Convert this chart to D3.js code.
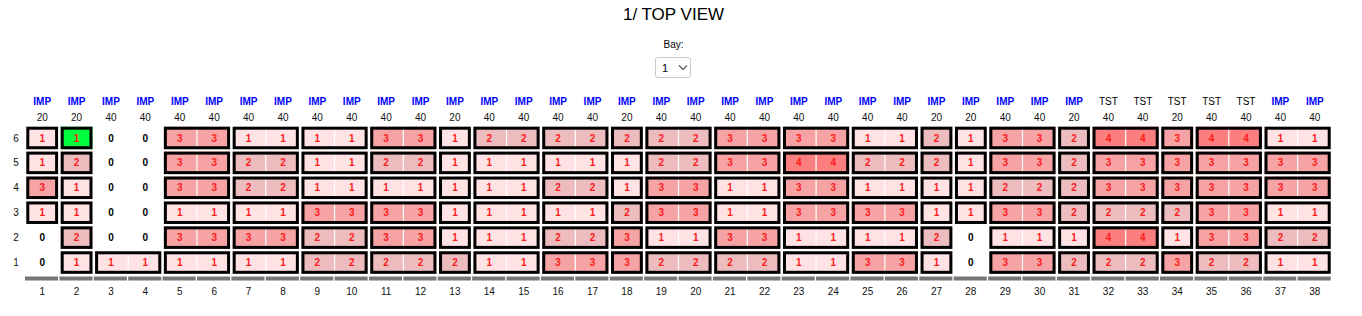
<!DOCTYPE html>
<html>
<head>
<meta charset="utf-8">
<script src="https://cdn.jsdelivr.net/npm/d3@7"></script>
<style>
  body { margin: 0; background: #fff; font-family: "Liberation Sans", Arial, sans-serif; }
  #wrap { position: relative; width: 1362px; height: 316px; overflow: hidden; }
  #title { position: absolute; left: 0; width: 1347px; top: 5px; text-align: center; font-size: 17px; color: #000; }
  #baylbl { position: absolute; left: 0; width: 1347px; top: 39px; text-align: center; font-size: 10px; }
  #bay { position: absolute; left: 655px; top: 57px; width: 36px; height: 21px; font: 11px "Liberation Sans", Arial, sans-serif;
         -webkit-appearance: none; appearance: none; border: 1px solid #c9c9c9; border-radius: 3px; background: #fff; padding: 0 0 0 6px; color: #000; }
  #chev { position: absolute; left: 678px; top: 64px; pointer-events: none; }
  svg { position: absolute; left: 0; top: 0; }
</style>
</head>
<body>
<div id="wrap">
  <div id="title">1/ TOP VIEW</div>
  <div id="baylbl">Bay:</div>
  <select id="bay"><option>1</option><option>2</option><option>3</option></select>
  <svg id="chev" width="10" height="7"><path d="M1,1.5 L5,5.5 L9,1.5" fill="none" stroke="#555" stroke-width="1.2"/></svg>
  <svg id="chart" width="1362" height="316"></svg>
</div>
<script>
"use strict";

// bays (columns), left to right
const bays = d3.range(1, 39);
const kinds = ["IMP","IMP","IMP","IMP","IMP","IMP","IMP","IMP","IMP","IMP",
               "IMP","IMP","IMP","IMP","IMP","IMP","IMP","IMP","IMP","IMP",
               "IMP","IMP","IMP","IMP","IMP","IMP","IMP","IMP","IMP","IMP",
               "IMP","TST","TST","TST","TST","TST","IMP","IMP"];
const sizes = [20,20,40,40,40,40,40,40,40,40,40,40,20,40,40,40,40,20,40,40,
               40,40,40,40,40,40,20,20,40,40,20,40,40,20,40,40,40,40];
const tiers = [6, 5, 4, 3, 2, 1];

// stack counts per tier, one entry per bay
const tier6 = [1,1,0,0,3,3,1,1,1,1,3,3,1,2,2,2,2,2,2,2,3,3,3,3,1,1,2,1,3,3,2,4,4,3,4,4,1,1];
const tier5 = [1,2,0,0,3,3,2,2,1,1,2,2,1,1,1,1,1,1,2,2,3,3,4,4,2,2,2,1,3,3,2,3,3,3,3,3,3,3];
const tier4 = [3,1,0,0,3,3,2,2,1,1,1,1,1,1,1,2,2,1,3,3,1,1,3,3,1,1,1,1,2,2,2,3,3,3,3,3,3,3];
const tier3 = [1,1,0,0,1,1,1,1,3,3,3,3,1,1,1,1,1,2,3,3,1,1,3,3,3,3,1,1,3,3,2,2,2,2,3,3,1,1];
const tier2 = [0,2,0,0,3,3,3,3,2,2,3,3,1,1,1,2,2,3,1,1,3,3,1,1,1,1,2,0,1,1,1,4,4,1,3,3,2,2];
const tier1 = [0,1,1,1,1,1,1,1,2,2,2,2,2,1,1,3,3,3,2,2,2,2,1,1,3,3,1,0,3,3,2,2,2,3,2,2,1,1];
const tierValues = {6: tier6, 5: tier5, 4: tier4, 3: tier3, 2: tier2, 1: tier1};

const selected = {bay: 2, tier: 6};

const x = d3.scaleBand().domain(bays).range([25, 1332]);
const y = d3.scaleBand().domain(tiers).range([125.5, 275]);
const color = d3.scaleOrdinal().domain([1, 2, 3, 4])
  .range(["#ffe2e4", "#ecbcbe", "#f6a3a5", "#fc7f80"]);

// pair consecutive 40ft bays into one slot
const slots = [];
for (let i = 0; i < bays.length; i++) {
  if (sizes[i] === 40 && sizes[i + 1] === 40) {
    slots.push([bays[i], bays[i + 1]]);
    i++;
  } else {
    slots.push([bays[i]]);
  }
}

const svg = d3.select("#chart");
const font = '"Liberation Sans", Arial, sans-serif';

// header: kind + size
svg.append("g").selectAll("text").data(bays).join("text")
  .attr("x", d => x(d) + x.bandwidth() / 2)
  .attr("y", 105.3)
  .attr("text-anchor", "middle")
  .attr("font-family", font)
  .attr("font-size", 10)
  .attr("font-weight", (d, i) => kinds[i] === "IMP" ? "bold" : "normal")
  .attr("fill", (d, i) => kinds[i] === "IMP" ? "#0000ff" : "#000")
  .text((d, i) => kinds[i]);

svg.append("g").selectAll("text").data(bays).join("text")
  .attr("x", d => x(d) + x.bandwidth() / 2)
  .attr("y", 121)
  .attr("text-anchor", "middle")
  .attr("font-family", font)
  .attr("font-size", 10)
  .attr("fill", "#111")
  .text((d, i) => sizes[i]);

// tier labels
svg.append("g").selectAll("text").data(tiers).join("text")
  .attr("x", 16)
  .attr("y", d => y(d) + y.bandwidth() / 2 + 3.6)
  .attr("text-anchor", "middle")
  .attr("font-family", font)
  .attr("font-size", 10)
  .attr("fill", "#111")
  .text(d => d);

// containers
const cells = [];
tiers.forEach(t => {
  slots.forEach(s => {
    const v = tierValues[t][s[0] - 1];
    cells.push({tier: t, slot: s, value: v});
  });
});

const g = svg.append("g");
const boxes = cells.filter(c => c.value > 0);
const sx0 = c => x(c.slot[0]) + 1.3;
const sx1 = c => x(c.slot[c.slot.length - 1]) + x.bandwidth() - 1.3;

g.selectAll("rect.fill").data(boxes).join("rect")
  .attr("class", "fill")
  .attr("x", sx0)
  .attr("y", c => y(c.tier) + 1.2)
  .attr("width", c => sx1(c) - sx0(c))
  .attr("height", y.bandwidth() - 2.4)
  .attr("fill", c => (c.tier === selected.tier && c.slot.includes(selected.bay)) ? "#00ff3c" : color(c.value));

// white split inside 40ft slots
g.selectAll("line.split").data(boxes.filter(c => c.slot.length === 2)).join("line")
  .attr("class", "split")
  .attr("x1", c => x(c.slot[1]))
  .attr("x2", c => x(c.slot[1]))
  .attr("y1", c => y(c.tier))
  .attr("y2", c => y(c.tier) + y.bandwidth())
  .attr("stroke", "#fff")
  .attr("stroke-width", 1.2);

g.selectAll("rect.edge").data(boxes).join("rect")
  .attr("class", "edge")
  .attr("x", c => sx0(c) + 1.5)
  .attr("y", c => y(c.tier) + 2.7)
  .attr("width", c => sx1(c) - sx0(c) - 3)
  .attr("height", y.bandwidth() - 5.4)
  .attr("fill", "none")
  .attr("stroke", "#000")
  .attr("stroke-width", 3);

// values per bay cell
const labels = [];
tiers.forEach(t => bays.forEach((b, i) => labels.push({tier: t, bay: b, value: tierValues[t][i]})));
g.selectAll("text").data(labels).join("text")
  .attr("x", d => x(d.bay) + x.bandwidth() / 2)
  .attr("y", d => y(d.tier) + y.bandwidth() / 2 + 3.6)
  .attr("text-anchor", "middle")
  .attr("font-family", font)
  .attr("font-size", 10)
  .attr("font-weight", "bold")
  .attr("fill", d => d.value > 0 ? "#ff1a1a" : "#000")
  .text(d => d.value);

// ground bar
svg.append("g").selectAll("rect").data(bays).join("rect")
  .attr("x", d => x(d))
  .attr("y", 276.5)
  .attr("width", x.bandwidth() - 1.3)
  .attr("height", 4)
  .attr("fill", "#777");

// bay numbers
svg.append("g").selectAll("text").data(bays).join("text")
  .attr("x", d => x(d) + x.bandwidth() / 2)
  .attr("y", 295.3)
  .attr("text-anchor", "middle")
  .attr("font-family", font)
  .attr("font-size", 10)
  .attr("fill", "#111")
  .text(d => d);
</script>
</body>
</html>
